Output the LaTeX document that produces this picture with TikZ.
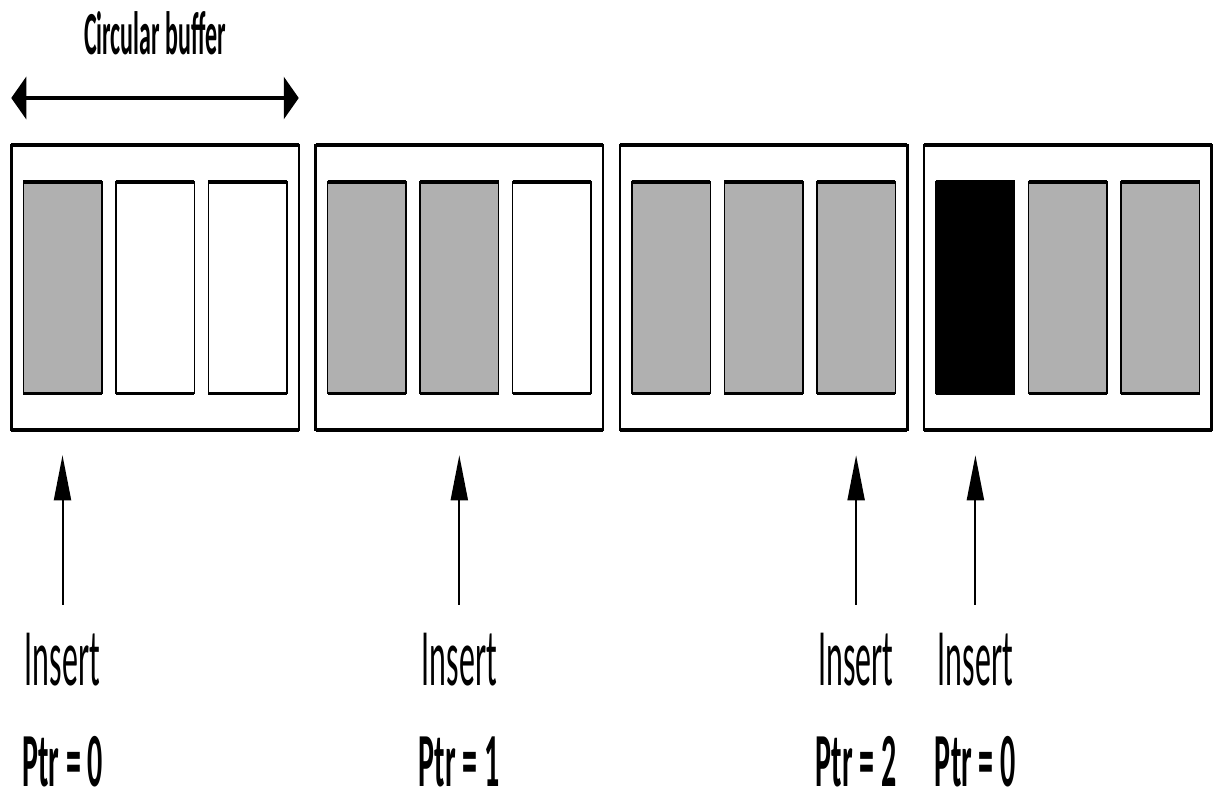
\documentclass[tikz,border=0pt]{standalone}
\usepackage{fontspec}
\setmainfont{Carlito}
\usepackage{tikz}
\usetikzlibrary{arrows.meta,positioning,calc}
\definecolor{SlotGray}{HTML}{B0B0B0}
\newcommand{\tallbox}[1]{\scalebox{1}[2.55]{#1}}
\tikzset{
    % Outer frame of one buffer state
    framebox/.style={
        draw=black,
        fill=white,
        line width=2.5pt,
        minimum width=287.5pt,
        minimum height=285pt,
        inner sep=0pt,
        outer sep=0pt
    },
    % Thick horizontal edge of a frame
    hedge/.style={
        line width=4pt,
        draw=black
    },
    % One slot of the buffer
    slotbox/.style={
        draw=black,
        line width=1.5pt,
        minimum width=78.5pt,
        minimum height=211.5pt,
        inner sep=0pt,
        outer sep=0pt
    },
    % Thick horizontal edge of a slot
    slotedge/.style={
        line width=3.5pt,
        draw=black
    },
    % Span arrow above the first frame
    spanarrow/.style={
        {Triangle[length=15pt, width=42pt]}-{Triangle[length=15pt, width=42pt]},
        line width=4pt,
        draw=black
    },
    % Pointer arrow
    ptrarrow/.style={
        -{Triangle[length=45pt, width=17pt]},
        line width=2pt,
        draw=black
    },
    % Labels
    titlelabel/.style={
        font=\fontsize{24}{28}\selectfont\bfseries,
        inner sep=0pt
    },
    insertlabel/.style={
        font=\fontsize{32}{36}\selectfont,
        inner sep=0pt
    },
    ptrlabel/.style={
        font=\fontsize{30}{34}\selectfont\bfseries,
        inner sep=0pt
    }
}
\begin{document}
\begin{tikzpicture}[x=1pt, y=-1pt, node distance=14pt]
    \useasboundingbox (0,0) rectangle (1217,792);

    % Buffer states
    \foreach \b/\fa/\fb/\fc in {0/SlotGray/white/white, 1/SlotGray/SlotGray/white, 2/SlotGray/SlotGray/SlotGray, 3/black/SlotGray/SlotGray} {
        \node[framebox] (f\b) at (155+304.3*\b, 287.5) {};
        \draw[hedge] (f\b.north west) -- (f\b.north east) (f\b.south west) -- (f\b.south east);
        \node[slotbox, fill=\fb] (s\b-1) at (f\b.center) {};
        \node[slotbox, fill=\fa, left=of s\b-1] (s\b-0) {};
        \node[slotbox, fill=\fc, right=of s\b-1] (s\b-2) {};
        \foreach \j in {0,1,2}
            \draw[slotedge] (s\b-\j.north west) -- (s\b-\j.north east) (s\b-\j.south west) -- (s\b-\j.south east);
    }

    % Title and span
    \node[titlelabel, anchor=base] (title) at ([yshift=90pt]f0.north) {\tallbox{Circular buffer}};
    \draw[spanarrow] ([yshift=47pt]f0.north west) -- ([yshift=47pt]f0.north east);

    % Insert pointers
    \foreach \b/\j/\p in {0/0/0, 1/1/1, 2/2/2, 3/0/0} {
        \node[insertlabel, anchor=base] (ins\b) at ([yshift=-292pt]s\b-\j.south) {\tallbox{Insert}};
        \node[ptrlabel, anchor=base] (ptr\b) at ([yshift=-101pt]ins\b.base) {\tallbox{Ptr = \p}};
        \draw[ptrarrow] ([yshift=28pt]ins\b.north) -- ([yshift=-62pt]s\b-\j.south);
    }
\end{tikzpicture}
\end{document}
